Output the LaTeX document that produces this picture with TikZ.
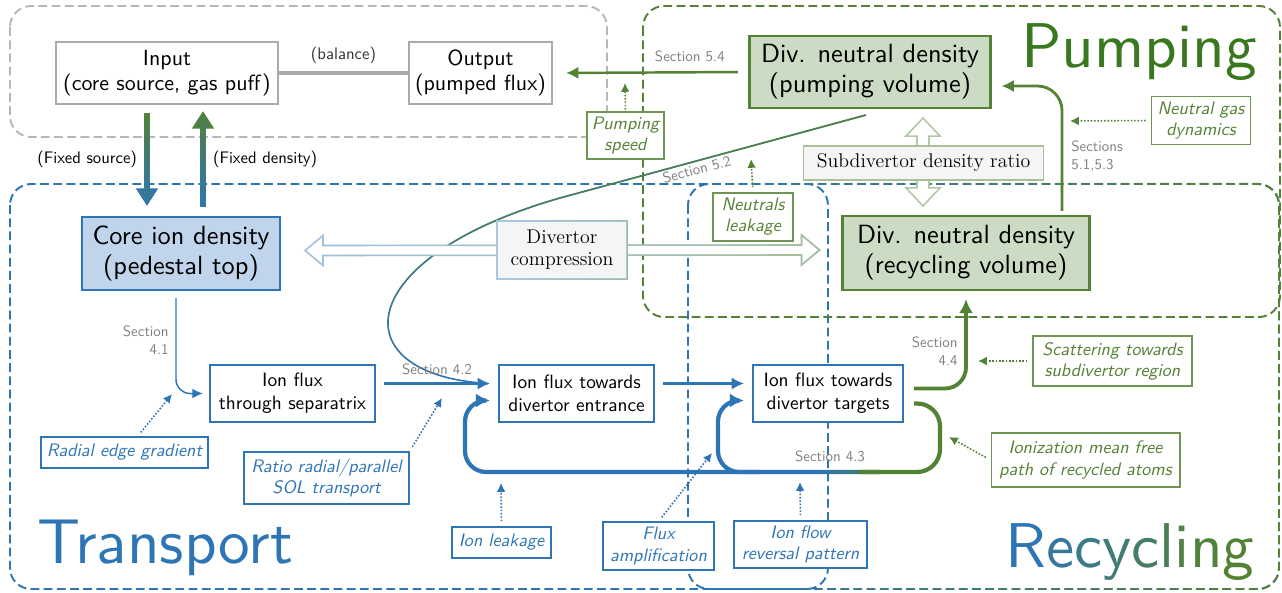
\documentclass[tikz,border=0pt]{standalone}
\usepackage{fontspec}
\usepackage{xcolor}
\usetikzlibrary{positioning,arrows.meta,calc,fadings}
\setsansfont{lmsans10-regular.otf}[ItalicFont=lmsans10-oblique.otf, BoldFont=lmsans10-bold.otf]
\renewcommand{\familydefault}{\sfdefault}
\definecolor{tblue}{RGB}{46,117,182}
\definecolor{pgreen}{RGB}{84,130,53}
\definecolor{titlegreen}{RGB}{58,120,32}
\definecolor{corefill}{RGB}{192,213,235}
\definecolor{divfill}{RGB}{204,219,196}
\definecolor{boxgray}{RGB}{170,170,170}
\definecolor{secgray}{RGB}{128,128,128}
\newcommand{\bigfont}{\fontsize{15}{17}\selectfont}
\newcommand{\midfont}{\fontsize{12.5}{14.5}\selectfont}
\newcommand{\fluxfont}{\fontsize{11}{13}\selectfont}
\newcommand{\notefont}{\fontsize{10.3}{12}\selectfont\itshape}
\newcommand{\secfont}{\fontsize{8.5}{10.5}\selectfont}
\newcommand{\fixfont}{\fontsize{9.5}{11}\selectfont}
\newcommand{\serfont}{\rmfamily\fontsize{11.3}{12.5}\selectfont}
\newcommand{\titlefont}{\fontsize{36}{40}\selectfont}
\tikzfading[name=fadeleft, left color=transparent!100, right color=transparent!0]
\tikzfading[name=fadetop, top color=transparent!0, bottom color=transparent!100]
\tikzfading[name=fadebottom, top color=transparent!100, bottom color=transparent!0]

\begin{document}
\begin{tikzpicture}[x=0.02cm, y=-0.02cm,
    every node/.style={align=center, inner sep=0pt},
    region/.style={dash pattern=on 5pt off 2.5pt, line width=1.1pt, rounded corners=12pt},
    grayblock/.style={rectangle, draw=boxgray, fill=white, line width=1.2pt, font=\midfont},
    coreblock/.style={rectangle, draw=tblue, fill=corefill, line width=1.2pt, font=\bigfont},
    divblock/.style={rectangle, draw=pgreen, fill=divfill, line width=1.2pt, font=\bigfont},
    fluxblock/.style={rectangle, draw=tblue, fill=white, line width=1.2pt, font=\fluxfont},
    ratiobox/.style={rectangle, draw=pgreen!50, fill=gray!8, line width=0.8pt, font=\serfont},
    bnote/.style={rectangle, draw=tblue, fill=white, line width=0.6pt, text=tblue, font=\notefont},
    gnote/.style={rectangle, draw=pgreen!85, fill=white, line width=0.6pt, text=pgreen, font=\notefont},
    sectext/.style={font=\secfont, text=secgray},
    fatarrow/.style={line width=3.4pt, -{Triangle[width=12pt, length=10pt]}},
    fatline/.style={line width=0.9pt, fill=white, line join=miter},
    fluxarrow/.style={tblue, line width=1.7pt, -{Latex[length=7pt, width=7pt]}},
    thinarrow/.style={tblue, line width=0.85pt, -{Latex[length=6pt, width=5.5pt]}},
    thinline/.style={line width=0.9pt},
    garrow/.style={pgreen, line width=1.4pt, -{Latex[length=7pt, width=7pt]}},
    gthick/.style={pgreen, line width=2.2pt, -{Latex[length=8pt, width=8pt]}},
    loopline/.style={line width=2.4pt},
    bdot/.style={tblue, line width=0.9pt, densely dotted, shorten <=3pt, -{Latex[length=5pt, width=5pt]}},
    gdot/.style={pgreen, line width=0.9pt, densely dotted, shorten <=3pt, -{Latex[length=5pt, width=5pt]}}
]
    \useasboundingbox (0,0) rectangle (1282,592);

    % Regions
    \draw[region, boxgray!85] (10,6) rectangle (607,137);
    \draw[region, tblue] (10,184) rectangle (828,589);
    \draw[region, tblue, postaction={draw=pgreen, path fading=fadeleft}] (688,184) rectangle (1279,589);
    \draw[region, pgreen] (643,6) rectangle (1280,317);

    % Region titles
    \node[anchor=base, font=\titlefont, text=tblue] (ttrans) at (165,563) {Transport};
    \node[anchor=base, font=\titlefont, text=titlegreen] (tpump) at (1139,67) {Pumping};
    \node[anchor=base, font=\titlefont] (trecyc) at (1130,567) {\textcolor{tblue}{R}\textcolor{tblue!80!pgreen}{e}\textcolor{tblue!65!pgreen}{c}\textcolor{tblue!50!pgreen}{y}\textcolor{tblue!38!pgreen}{c}\textcolor{tblue!25!pgreen}{l}\textcolor{tblue!12!pgreen}{i}\textcolor{tblue!5!pgreen}{n}\textcolor{pgreen}{g}};

    % Balance boxes
    \node[grayblock, minimum width=4.44cm, minimum height=1.24cm] (input) at (167,73) {Input\\(core source, gas puff)};
    \node[grayblock, minimum width=2.86cm, minimum height=1.24cm] (output) at (480.5,73) {Output\\(pumped flux)};

    % Densities
    \node[divblock, minimum width=4.82cm, minimum height=1.44cm] (divpump) at (870,72) {Div. neutral density\\(pumping volume)};
    \node[coreblock, minimum width=3.96cm, minimum height=1.46cm] (core) at (181,253.5) {Core ion density\\(pedestal top)};
    \node[divblock, minimum width=4.94cm, minimum height=1.48cm] (divrecyc) at (966,253) {Div. neutral density\\(recycling volume)};

    % Ion fluxes
    \node[fluxblock, minimum width=3.3cm, minimum height=1.14cm] (sep) at (292.5,393.5) {Ion flux\\through separatrix};
    \node[fluxblock, minimum width=3.1cm, minimum height=1.14cm] (entrance) at (576.5,393.5) {Ion flux towards\\divertor entrance};
    \node[fluxblock, minimum width=3cm, minimum height=1.14cm] (targets) at (828,393.5) {Ion flux towards\\divertor targets};

    % Annotations
    \node[gnote, minimum width=1.54cm, minimum height=0.94cm] (pspeed) at (625.5,135.5) {Pumping\\speed};
    \node[gnote, minimum width=1.98cm, minimum height=0.96cm] (gasdyn) at (1201,120.5) {Neutral gas\\dynamics};
    \node[gnote, minimum width=1.6cm, minimum height=0.96cm] (nleak) at (753,217) {Neutrals\\leakage};
    \node[gnote, minimum width=3.18cm, minimum height=1.0cm] (scatter) at (1112.5,361) {Scattering towards\\subdivertor region};
    \node[gnote, minimum width=3.78cm, minimum height=1.08cm] (ionize) at (1085.5,460) {Ionization mean free\\path of recycled atoms};
    \node[bnote, minimum width=3.34cm, minimum height=0.62cm] (radial) at (124.5,452.5) {Radial edge gradient};
    \node[bnote, minimum width=3.3cm, minimum height=1.04cm] (ratio) at (326.5,478) {Ratio radial/parallel\\SOL transport};
    \node[bnote, minimum width=1.98cm, minimum height=0.62cm] (ionleak) at (501.5,542.5) {Ion leakage};
    \node[bnote, minimum width=2.22cm, minimum height=0.96cm] (fluxamp) at (658.5,546) {Flux\\amplification};
    \node[bnote, minimum width=2.66cm, minimum height=0.94cm] (reversal) at (800.5,544.5) {Ion flow\\reversal pattern};

    % Free ends of the dotted arrows
    \coordinate (pspeedtip) at (625,83);
    \coordinate (gastip) at (1070,121);
    \coordinate (nleaktip) at (751,159);
    \coordinate (radialtip) at (172,394);
    \coordinate (ratiotip) at (442,398);
    \coordinate (ionleaktip) at (501,483);
    \coordinate (fluxtip) at (712,453);
    \coordinate (reversaltip) at (800,482);
    \coordinate (scattertip) at (978,361);
    \coordinate (ionizetip) at (949,437);

    \draw[gdot, shorten <=1pt] (pspeed.north) -- (pspeedtip);
    \draw[gdot] (gasdyn.west) -- (gastip);
    \draw[gdot] (nleak.north) -- (nleaktip);
    \draw[gdot] (scatter.west) -- (scattertip);
    \draw[gdot] (ionize.west) -- (ionizetip);
    \draw[bdot] (radial) -- (radialtip);
    \draw[bdot] (ratio.north east) -- (ratiotip);
    \draw[bdot] (ionleak.north) -- (ionleaktip);
    \draw[bdot] (fluxamp.north) -- (fluxtip);
    \draw[bdot] (reversal.north) -- (reversaltip);

    % Input / output and boundary conditions
    \draw[boxgray, line width=2.6pt] (input) -- (output) node[midway, above=4pt, font=\fixfont, text=black!80] {(balance)};
    \draw[fatarrow, tblue, postaction={draw=pgreen, path fading=fadetop}] ($(input.south)+(-20,8)$) -- ($(core.north)+(-34,-10)$) node[midway, left=4pt, font=\fixfont, text=black] {(Fixed source)};
    \draw[fatarrow, pgreen, postaction={draw=tblue, path fading=fadebottom}] ($(core.north)+(22,-9)$) -- ($(input.south)+(36,6)$) node[midway, right=4pt, font=\fixfont, text=black] {(Fixed density)};
    \draw[garrow, shorten <=6pt, shorten >=7.4pt] (divpump.west) -- (output.east) node[pos=0.3, above=5pt, sectext] {Section 5.4};

    % Transport chain
    \draw[thinarrow, rounded corners=8pt] ($(core.south)+(-5,7)$) |- ($(sep.west)+(-6,0)$);
    \node[sectext, anchor=east, align=right] (s41) at (169,340) {Section\\4.1};
    \coordinate (c52) at (560,198);
    \draw[thinline, tblue, postaction={draw=pgreen, path fading=fadetop}] ($(divpump.south)+(-4,6)$) -- (c52) node[pos=0.56, sloped, below=1pt, sectext] {Section 5.2} .. controls (350,258) and (340,375) .. ($(entrance.west)+(-10,-10)$);
    \draw[fluxarrow] ($(sep.east)+(8,-10)$) -- ($(entrance.west)+(-8,-10)$) node[midway, above=4pt, sectext] {Section 4.2};
    \draw[fluxarrow] ($(entrance.east)+(8,-10)$) -- ($(targets.west)+(-8,-10)$);

    % Recycling loop
    \coordinate (loopse) at (940,472);
    \coordinate (loopg) at (860,472);
    \coordinate (loopb) at (880,472);
    \coordinate (loopsw) at (465,472);
    \coordinate (loopbr) at (760,472);
    \coordinate (loopbl) at (718,472);
    \coordinate (loopfa) at (900,472);
    \coordinate (loopfb) at (820,472);
    \draw[loopline, tblue, rounded corners=12pt, -{Latex[length=8pt, width=8pt]}] (loopb) -- (loopsw) |- ($(entrance.west)+(-8,7)$);
    \draw[loopline, tblue, rounded corners=12pt, -{Latex[length=8pt, width=8pt]}] (loopbr) -- (loopbl) |- ($(targets.west)+(-8,7)$);
    \draw[loopline, pgreen, rounded corners=13pt] ($(targets.east)+(10,10)$) -| (loopse) -- (loopg);
    \draw[loopline, pgreen, path fading=fadeleft] (loopfb) -- (loopfa);
    \node[sectext] (s43) at (830,456) {Section 4.3};

    % Towards the neutrals
    \draw[gthick, rounded corners=12pt] ($(targets.east)+(10,-5)$) -| ($(divrecyc.south)+(0,8)$);
    \node[sectext, anchor=east, align=right] (s44) at (958,351) {Section\\4.4};
    \draw[garrow, line width=1.6pt, rounded corners=14pt] ($(divrecyc.north)+(96,-4)$) |- ($(divpump.east)+(10,14)$);
    \node[sectext, anchor=west, align=left] (s51) at (1071,156) {Sections\\5.1,5.3};

    % Compression and density ratio
    \coordinate (hl) at ($(core.east)+(24,-3)$);
    \coordinate (hr) at ($(divrecyc.west)+(-22,-3)$);
    \draw[fatline, draw=tblue!45, postaction={draw=pgreen!50, path fading=fadeleft}] (hl) -- ++(18,-15) -- ++(0,10) -- ($(hr)+(-18,-5)$) -- ++(0,-10) -- (hr) -- ++(-18,15) -- ++(0,-10) -- ($(hl)+(18,5)$) -- ++(0,10) -- cycle;
    \coordinate (vt) at ($(divpump.south)+(53,9)$);
    \coordinate (vb) at ($(divrecyc.north)+(-43,-9)$);
    \draw[fatline, draw=pgreen!45] (vt) -- ++(17,18) -- ++(-11,0) -- ($(vb)+(6,-18)$) -- ++(11,0) -- (vb) -- ++(-17,-18) -- ++(11,0) -- ($(vt)+(-6,18)$) -- ++(-11,0) -- cycle;
    \node[ratiobox, draw=tblue!40, minimum width=2.6cm, minimum height=1.16cm] (divcomp) at (562,250) {Divertor\\compression};
    \draw[pgreen!55, line width=0.8pt, path fading=fadeleft] (divcomp.south west) rectangle (divcomp.north east);
    \node[ratiobox, minimum width=4.8cm, minimum height=0.68cm] (subdiv) at (923.5,163) {Subdivertor density ratio};
\end{tikzpicture}
\end{document}
